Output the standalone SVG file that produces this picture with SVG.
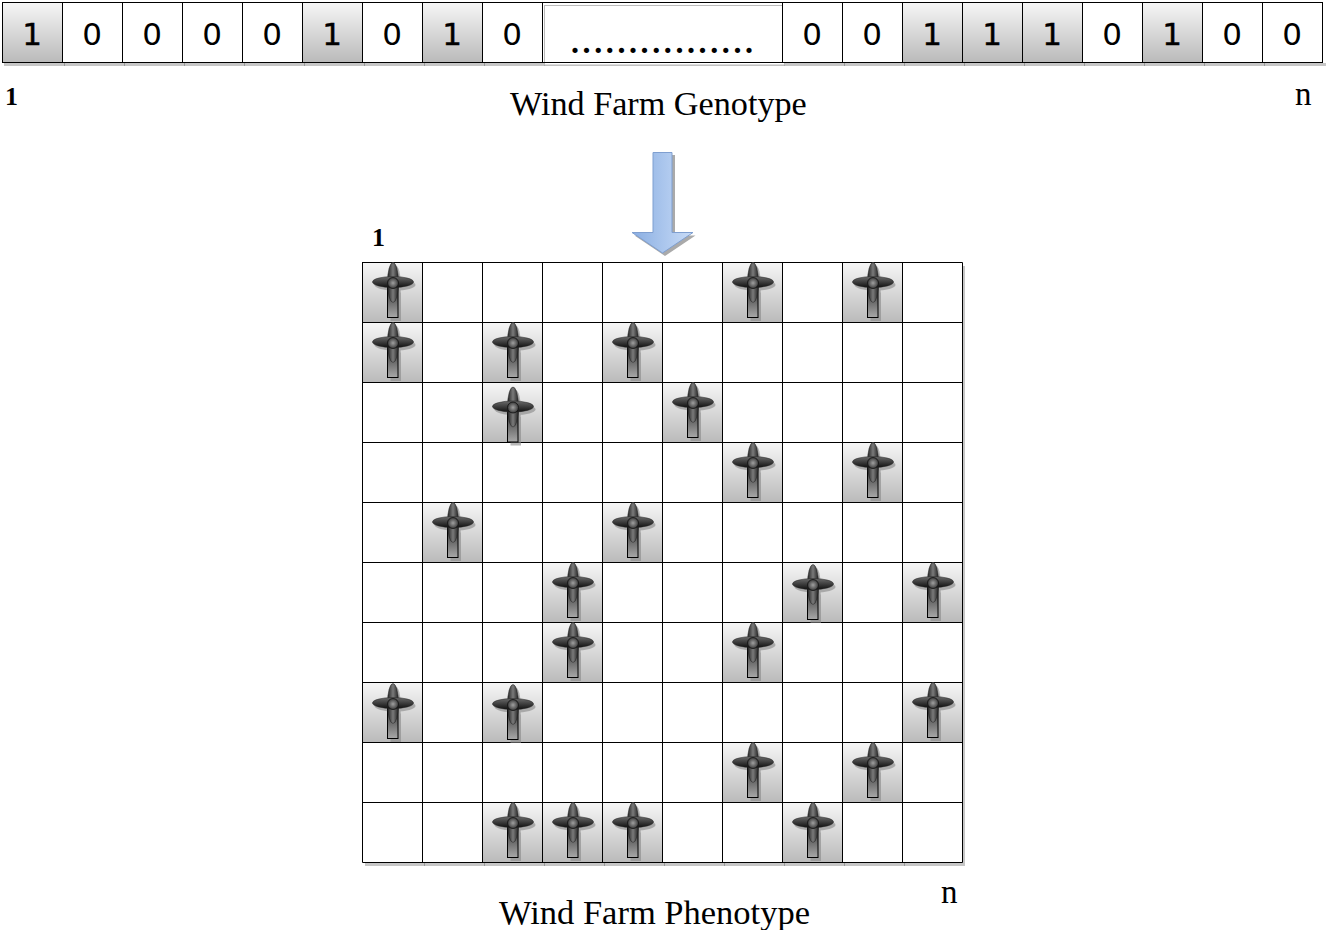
<svg xmlns="http://www.w3.org/2000/svg" width="1326" height="930" viewBox="0 0 1326 930">
<style>
.line{fill:none;stroke:#000;stroke-width:1}
.bit{font-family:"DejaVu Sans",sans-serif;font-size:31px;text-anchor:middle;fill:#000}
.one{stroke:#000;stroke-width:0.4}
.lab{font-family:"Liberation Serif",serif;font-size:34.200px;fill:#000}
.idx{font-family:"Liberation Serif",serif;font-size:26px;font-weight:bold;fill:#000}
.en{font-family:"Liberation Serif",serif;font-size:33px;fill:#000}
.on{fill:url(#cell);stroke:#000}
.off{fill:#fff;stroke:#000}
.tick{fill:none;stroke:#9a9a9a;stroke-width:1}
</style>
<defs>
<linearGradient id="cell" x1="0" y1="0" x2="0" y2="1"><stop offset="0" stop-color="#f6f6f6"/><stop offset="1" stop-color="#bababa"/></linearGradient>
<linearGradient id="tower" x1="0" y1="0" x2="0" y2="1"><stop offset="0" stop-color="#333"/><stop offset="1" stop-color="#a8a8a8"/></linearGradient>
<linearGradient id="bladeV" x1="0" y1="0" x2="1" y2="0"><stop offset="0" stop-color="#222"/><stop offset="0.5" stop-color="#7a7a7a"/><stop offset="1" stop-color="#222"/></linearGradient>
<linearGradient id="bladeH" x1="0" y1="0" x2="0" y2="1"><stop offset="0" stop-color="#6a6a6a"/><stop offset="1" stop-color="#111"/></linearGradient>
<radialGradient id="hub"><stop offset="0" stop-color="#a0a0a0"/><stop offset="1" stop-color="#3a3a3a"/></radialGradient>
<linearGradient id="arrow" x1="0" y1="0" x2="1" y2="0"><stop offset="0" stop-color="#8aaee2"/><stop offset="1" stop-color="#c9dcf7"/></linearGradient>
<g id="tb">
<g fill="#888" opacity="0.6"><rect x="28" y="30" width="10.500" height="28.500"/><ellipse cx="32.500" cy="22.500" rx="20.500" ry="5.500"/><ellipse cx="33" cy="23" rx="5.500" ry="20"/></g>
<rect x="25" y="25" width="10.500" height="30" fill="url(#tower)" stroke="#000"/>
<ellipse cx="30.500" cy="20" rx="5.500" ry="20" fill="url(#bladeV)" stroke="#222" stroke-width="0.5"/>
<ellipse cx="30.500" cy="19.500" rx="20.500" ry="5.500" fill="url(#bladeH)" stroke="#222" stroke-width="0.5"/>
<circle cx="30.500" cy="20.500" r="5.500" fill="url(#hub)" stroke="#111" stroke-width="0.8"/>
</g>
<rect id="b" width="60" height="60" class="on"/>
<rect id="w" width="60" height="60" class="off"/>
</defs>
<rect width="1326" height="930" fill="#fff"/>

<g id="row-shadow"><rect x="4" y="63" width="1322" height="3" fill="#c6c6c6"/>
<path class="tick" d="M64.500 63V66M124.500 63V66M184.500 63V66M244.500 63V66M304.500 63V66M364.500 63V66M424.500 63V66M484.500 63V66M544.500 63V66M784.500 63V66M844.500 63V66M904.500 63V66M964.500 63V66M1024.500 63V66M1084.500 63V66M1144.500 63V66M1204.500 63V66M1264.500 63V66"/></g>

<g id="genotype">
<g id="g1"><use href="#b" x="2.500" y="2.500"/><text class="bit one" x="32" y="45">1</text></g>
<g id="g2"><use href="#w" x="62.500" y="2.500"/><text class="bit" x="92" y="45">0</text></g>
<g id="g3"><use href="#w" x="122.500" y="2.500"/><text class="bit" x="152" y="45">0</text></g>
<g id="g4"><use href="#w" x="182.500" y="2.500"/><text class="bit" x="212" y="45">0</text></g>
<g id="g5"><use href="#w" x="242.500" y="2.500"/><text class="bit" x="272" y="45">0</text></g>
<g id="g6"><use href="#b" x="302.500" y="2.500"/><text class="bit one" x="332" y="45">1</text></g>
<g id="g7"><use href="#w" x="362.500" y="2.500"/><text class="bit" x="392" y="45">0</text></g>
<g id="g8"><use href="#b" x="422.500" y="2.500"/><text class="bit one" x="452" y="45">1</text></g>
<g id="g9"><use href="#w" x="482.500" y="2.500"/><text class="bit" x="512" y="45">0</text></g>
<g id="gap"><rect x="544.500" y="5.500" width="240" height="59.500" fill="#fff" stroke="#bbb"/><path class="line" d="M542.500 2.500H782.500V62.500H542.500Z"/>
<text x="571" y="52.500" font-family="Liberation Serif, serif" font-size="32" font-weight="bold" letter-spacing="3.600">................</text></g>
<g id="g10"><use href="#w" x="782.500" y="2.500"/><text class="bit" x="812" y="45">0</text></g>
<g id="g11"><use href="#w" x="842.500" y="2.500"/><text class="bit" x="872" y="45">0</text></g>
<g id="g12"><use href="#b" x="902.500" y="2.500"/><text class="bit one" x="932" y="45">1</text></g>
<g id="g13"><use href="#b" x="962.500" y="2.500"/><text class="bit one" x="992" y="45">1</text></g>
<g id="g14"><use href="#b" x="1022.500" y="2.500"/><text class="bit one" x="1052" y="45">1</text></g>
<g id="g15"><use href="#w" x="1082.500" y="2.500"/><text class="bit" x="1112" y="45">0</text></g>
<g id="g16"><use href="#b" x="1142.500" y="2.500"/><text class="bit one" x="1172" y="45">1</text></g>
<g id="g17"><use href="#w" x="1202.500" y="2.500"/><text class="bit" x="1232" y="45">0</text></g>
<g id="g18"><use href="#w" x="1262.500" y="2.500"/><text class="bit" x="1292" y="45">0</text></g>
</g>

<text class="idx" x="5" y="105">1</text>
<text class="lab" x="510" y="115">Wind Farm Genotype</text>
<text class="en" x="1295" y="105">n</text>

<g id="connectors">
<path d="M655 155H675V235.500H695.500L665 256L634.500 235.500H655Z" fill="#aaa"/>
<path d="M653 152.500H672V232.500H693L662.500 253L632 232.500H653Z" fill="url(#arrow)" stroke="#7f9fd0" stroke-width="1"/>
</g>

<text class="idx" x="372" y="246">1</text>

<g id="grid-shadow"><rect x="365" y="266" width="600" height="600" fill="#c6c6c6"/>
<path class="tick" d="M424.500 863V866M484.500 863V866M544.500 863V866M604.500 863V866M664.500 863V866M724.500 863V866M784.500 863V866M844.500 863V866M904.500 863V866"/></g>
<g id="grid">
<rect x="362.500" y="262.500" width="600" height="600" fill="#fff"/>
<path class="line" d="M362.500 262.500H962.500M362.500 322.500H962.500M362.500 382.500H962.500M362.500 442.500H962.500M362.500 502.500H962.500M362.500 562.500H962.500M362.500 622.500H962.500M362.500 682.500H962.500M362.500 742.500H962.500M362.500 802.500H962.500M362.500 862.500H962.500M362.500 262.500V862.500M422.500 262.500V862.500M482.500 262.500V862.500M542.500 262.500V862.500M602.500 262.500V862.500M662.500 262.500V862.500M722.500 262.500V862.500M782.500 262.500V862.500M842.500 262.500V862.500M902.500 262.500V862.500M962.500 262.500V862.500"/>
</g>

<g id="t-0-0"><use href="#b" x="362.500" y="262.500"/><use href="#tb" x="362.500" y="262.500"/></g>
<g id="t-0-6"><use href="#b" x="722.500" y="262.500"/><use href="#tb" x="722.500" y="262.500"/></g>
<g id="t-0-8"><use href="#b" x="842.500" y="262.500"/><use href="#tb" x="842.500" y="262.500"/></g>
<g id="t-1-0"><use href="#b" x="362.500" y="322.500"/><use href="#tb" x="362.500" y="322.500"/></g>
<g id="t-1-2"><use href="#b" x="482.500" y="322.500"/><use href="#tb" x="482.500" y="322.500"/></g>
<g id="t-1-4"><use href="#b" x="602.500" y="322.500"/><use href="#tb" x="602.500" y="322.500"/></g>
<g id="t-2-2"><use href="#b" x="482.500" y="382.500"/><use href="#tb" x="482.500" y="387"/></g>
<g id="t-2-5"><use href="#b" x="662.500" y="382.500"/><use href="#tb" x="662.500" y="382.500"/></g>
<g id="t-3-6"><use href="#b" x="722.500" y="442.500"/><use href="#tb" x="722.500" y="442.500"/></g>
<g id="t-3-8"><use href="#b" x="842.500" y="442.500"/><use href="#tb" x="842.500" y="442.500"/></g>
<g id="t-4-1"><use href="#b" x="422.500" y="502.500"/><use href="#tb" x="422.500" y="502.500"/></g>
<g id="t-4-4"><use href="#b" x="602.500" y="502.500"/><use href="#tb" x="602.500" y="502.500"/></g>
<g id="t-5-3"><use href="#b" x="542.500" y="562.500"/><use href="#tb" x="542.500" y="562.500"/></g>
<g id="t-5-7"><use href="#b" x="782.500" y="562.500"/><use href="#tb" x="782.500" y="564.500"/></g>
<g id="t-5-9"><use href="#b" x="902.500" y="562.500"/><use href="#tb" x="902.500" y="562.500"/></g>
<g id="t-6-3"><use href="#b" x="542.500" y="622.500"/><use href="#tb" x="542.500" y="622.500"/></g>
<g id="t-6-6"><use href="#b" x="722.500" y="622.500"/><use href="#tb" x="722.500" y="622.500"/></g>
<g id="t-7-0"><use href="#b" x="362.500" y="682.500"/><use href="#tb" x="362.500" y="683.500"/></g>
<g id="t-7-2"><use href="#b" x="482.500" y="682.500"/><use href="#tb" x="482.500" y="684.500"/></g>
<g id="t-7-9"><use href="#b" x="902.500" y="682.500"/><use href="#tb" x="902.500" y="682.500"/></g>
<g id="t-8-6"><use href="#b" x="722.500" y="742.500"/><use href="#tb" x="722.500" y="742.500"/></g>
<g id="t-8-8"><use href="#b" x="842.500" y="742.500"/><use href="#tb" x="842.500" y="742.500"/></g>
<g id="t-9-2"><use href="#b" x="482.500" y="802.500"/><use href="#tb" x="482.500" y="802.500"/></g>
<g id="t-9-3"><use href="#b" x="542.500" y="802.500"/><use href="#tb" x="542.500" y="802.500"/></g>
<g id="t-9-4"><use href="#b" x="602.500" y="802.500"/><use href="#tb" x="602.500" y="802.500"/></g>
<g id="t-9-7"><use href="#b" x="782.500" y="802.500"/><use href="#tb" x="782.500" y="802.500"/></g>

<text class="lab" x="499" y="924" style="font-size:34.500px">Wind Farm Phenotype</text>
<text class="en" x="941" y="903">n</text>
</svg>
